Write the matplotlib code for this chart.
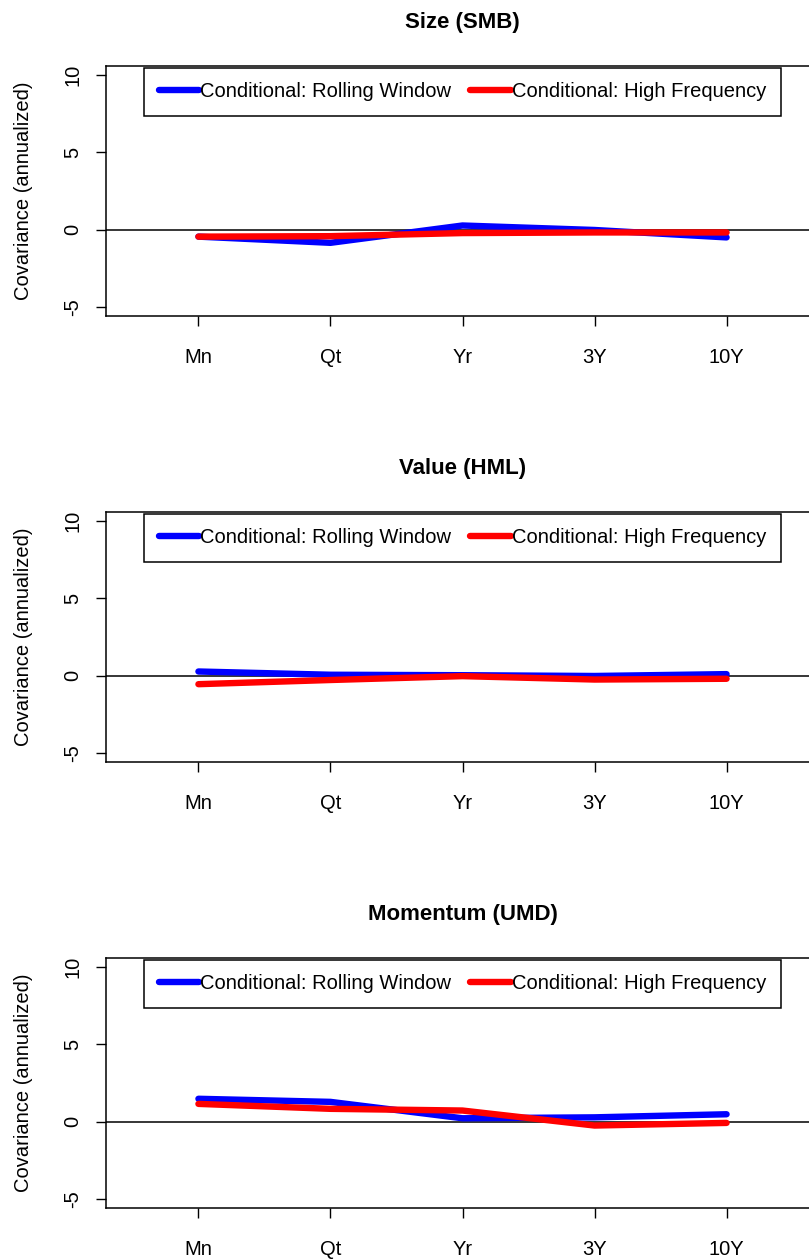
import matplotlib.pyplot as plt
import numpy as np

plt.rcParams['font.family'] = ['Liberation Sans', 'DejaVu Sans']

horizons = ['Mn', 'Qt', 'Yr', '3Y', '10Y']

titles = ['Size (SMB)', 'Value (HML)', 'Momentum (UMD)']

rolling = [
    [-0.45, -0.85, 0.27, -0.02, -0.5],
    [0.27, 0.06, 0.03, -0.02, 0.1],
    [1.48, 1.28, 0.22, 0.28, 0.48],
]

high_freq = [
    [-0.45, -0.42, -0.22, -0.18, -0.18],
    [-0.55, -0.28, -0.03, -0.25, -0.2],
    [1.15, 0.83, 0.72, -0.25, -0.08],
]

W, H = 809, 1260
fig = plt.figure(figsize=(W / 100, H / 100), dpi=100)

x = np.arange(1, len(horizons) + 1)

for i in range(3):
    top = 65.7 + 446 * i
    bottom = 316.3 + 446 * i
    ax = fig.add_axes([106 / W, 1 - bottom / H, 713 / W, (bottom - top) / H])

    ax.axhline(0, color='black', lw=1.1, zorder=1)
    ax.plot(x, rolling[i], color='blue', lw=4.6, solid_capstyle='round',
            solid_joinstyle='round', label='Conditional: Rolling Window', zorder=2)
    ax.plot(x, high_freq[i], color='red', lw=4.6, solid_capstyle='round',
            solid_joinstyle='round', label='Conditional: High Frequency', zorder=3)

    ax.set_xlim(0.3, 5.7)
    ax.set_ylim(-5.6, 10.6)
    ax.set_xticks(x)
    ax.set_xticklabels(horizons)
    ax.set_yticks([-5, 0, 5, 10])
    ax.set_yticklabels(['-5', '0', '5', '10'], rotation=90, va='center')
    ax.tick_params(axis='both', labelsize=14.5, length=7, width=1, color='black',
                   direction='out')
    ax.tick_params(axis='x', pad=16)
    ax.tick_params(axis='y', pad=10)
    for s in ax.spines.values():
        s.set_linewidth(1.1)

    ax.set_title(titles[i], fontsize=16, fontweight='bold', pad=27)
    ax.set_ylabel('Covariance (annualized)', fontsize=14.5, labelpad=22)

    leg = ax.legend(loc='upper center', bbox_to_anchor=(0.5, 0.992), ncol=2,
                    fontsize=14.5, handlelength=2.0, handletextpad=0.05,
                    columnspacing=0.95, borderpad=0.72, fancybox=False,
                    framealpha=1, edgecolor='black', borderaxespad=0)
    leg.get_frame().set_linewidth(1.1)

fig.savefig('out.png', dpi=100)
